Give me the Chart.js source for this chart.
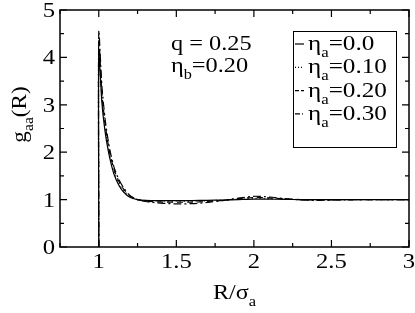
<!DOCTYPE html>
<html>
<head>
<meta charset="utf-8">
<script src="https://cdn.jsdelivr.net/npm/chart.js@4.4.1/dist/chart.umd.min.js"></script>
<style>
  html, body { margin: 0; padding: 0; background: #fff; }
  #wrap { width: 415px; height: 313px; }
</style>
</head>
<body>
<div id="wrap"><canvas id="chart" width="415" height="313"></canvas></div>
<script>
// R/sigma_a grid (first point draws the vertical jump at contact)
const rValues = [1, 1, 1.02, 1.04, 1.06, 1.08, 1.1, 1.13, 1.16, 1.2, 1.25, 1.3, 1.4, 1.5, 1.6, 1.7, 1.8, 1.9, 2.0, 2.1, 2.2, 2.3, 2.4, 2.5, 2.75, 3.0];
const gEta000 = [0, 4.10, 3.05, 2.45, 2.05, 1.75, 1.52, 1.30, 1.16, 1.05, 1.0, 0.985, 0.98, 0.98, 0.98, 0.985, 0.99, 1.0, 1.01, 1.01, 1.005, 1.0, 1.0, 1.0, 1.0, 1.0];
const gEta010 = [0, 4.22, 3.15, 2.55, 2.12, 1.80, 1.57, 1.34, 1.19, 1.07, 1.0, 0.98, 0.97, 0.965, 0.965, 0.975, 0.99, 1.01, 1.025, 1.02, 1.01, 1.0, 0.995, 1.0, 1.0, 1.0];
const gEta020 = [0, 4.38, 3.25, 2.62, 2.18, 1.86, 1.62, 1.38, 1.22, 1.08, 1.0, 0.97, 0.95, 0.945, 0.945, 0.96, 0.985, 1.02, 1.045, 1.035, 1.015, 1.0, 0.99, 0.995, 1.0, 1.0];
const gEta030 = [0, 4.55, 3.40, 2.72, 2.26, 1.92, 1.67, 1.42, 1.25, 1.09, 1.0, 0.96, 0.925, 0.91, 0.915, 0.94, 0.98, 1.03, 1.07, 1.055, 1.02, 0.995, 0.985, 0.99, 1.0, 1.0];
const seriesLabels = ['0.0', '0.10', '0.20', '0.30'];
const xTicks = [1, 1.5, 2, 2.5, 3];
const yTicks = [0, 1, 2, 3, 4, 5];

const FONT = "'Liberation Serif', serif";
const dashes = [[], [1, 3], [6, 4], [8, 3, 2, 3]];

function pts(ys) {
    return rValues.map((x, i) => ({ x: x, y: ys[i] }));
}

// text with subscripts, slightly widened like the original: parts = [[text, isSub], ...]
function subText(ctx, parts, x, y, size, align, hs) {
    hs = hs || 1;
    const subSize = Math.round(size * 0.68);
    let w = 0;
    parts.forEach(p => {
        ctx.font = (p[1] ? subSize : size) + 'px ' + FONT;
        w += ctx.measureText(p[0]).width;
    });
    let x0 = x;
    if (align === 'center') x0 = x - w * hs / 2;
    if (align === 'right') x0 = x - w * hs;
    ctx.save();
    ctx.translate(x0, y);
    ctx.scale(hs, 1);
    ctx.textAlign = 'left';
    ctx.textBaseline = 'alphabetic';
    let cx = 0;
    parts.forEach(p => {
        ctx.font = (p[1] ? subSize : size) + 'px ' + FONT;
        ctx.fillText(p[0], cx, p[1] ? 7 : 0);
        cx += ctx.measureText(p[0]).width;
    });
    ctx.restore();
}

const decor = {
    id: 'decor',
    afterDraw(chart) {
        const ctx = chart.ctx;
        const a = chart.chartArea;
        const xs = chart.scales.x, ys = chart.scales.y;
        ctx.save();
        ctx.strokeStyle = '#000';
        ctx.fillStyle = '#000';
        ctx.lineWidth = 1.5;
        ctx.strokeRect(a.left, a.top, a.right - a.left, a.bottom - a.top);
        ctx.lineWidth = 1.2;
        ctx.beginPath();
        // x ticks, top and bottom, inward
        for (let v = 0.75; v <= 3.001; v += 0.25) {
            const px = xs.getPixelForValue(v);
            const len = Math.abs(v * 2 - Math.round(v * 2)) < 1e-6 ? 7 : 4;
            ctx.moveTo(px, a.bottom); ctx.lineTo(px, a.bottom - len);
            ctx.moveTo(px, a.top); ctx.lineTo(px, a.top + len);
        }
        // y ticks, left and right
        for (let v = 0; v <= 5.001; v += 0.5) {
            const py = ys.getPixelForValue(v);
            const len = Math.abs(v - Math.round(v)) < 1e-6 ? 7 : 4;
            ctx.moveTo(a.left, py); ctx.lineTo(a.left + len, py);
            ctx.moveTo(a.right, py); ctx.lineTo(a.right - len, py);
        }
        ctx.stroke();

        // tick labels from the scales
        xs.ticks.forEach(t => {
            subText(ctx, [[String(t.value), false]], xs.getPixelForValue(t.value), a.bottom + 21, 22, 'center', 1.12);
        });
        ys.ticks.forEach(t => {
            subText(ctx, [[String(t.value), false]], a.left - 5, ys.getPixelForValue(t.value) + 7, 22, 'right', 1.12);
        });

        // axis titles
        subText(ctx, [['R/σ', false], ['a', true]], (a.left + a.right) / 2, 299, 22, 'center', 1.1);
        ctx.save();
        ctx.translate(26, (a.top + a.bottom) / 2 - 14);
        ctx.rotate(-Math.PI / 2);
        subText(ctx, [['g', false], ['aa', true], ['(R)', false]], 0, 0, 22, 'center', 1.05);
        ctx.restore();

        // annotation
        subText(ctx, [['q = 0.25', false]], 171, 50, 21, 'left', 1.16);
        subText(ctx, [['η', false], ['b', true], ['=0.20', false]], 171, 72, 21, 'left', 1.16);

        // legend box
        ctx.lineWidth = 1;
        ctx.strokeRect(293.5, 31.5, 103, 116);
        chart.data.datasets.forEach((ds, i) => {
            const by = 50 + i * 23.3;
            ctx.save();
            ctx.lineWidth = 1.2;
            ctx.setLineDash(i === 3 ? [5, 2, 1, 2] : (i === 2 ? [4, 2] : (i === 1 ? [1, 2] : [])));
            ctx.beginPath();
            ctx.moveTo(295, by - 6); ctx.lineTo(304, by - 6);
            ctx.stroke();
            ctx.restore();
            subText(ctx, [['η', false], ['a', true], ['=' + seriesLabels[i], false]], 308, by, 21, 'left', 1.2);
        });
        ctx.restore();
    }
};

const ctx = document.getElementById('chart').getContext('2d');
new Chart(ctx, {
    type: 'scatter',
    data: {
        datasets: [gEta000, gEta010, gEta020, gEta030].map((ys, i) => ({
            label: 'ηa=' + seriesLabels[i],
            data: pts(ys),
            showLine: true,
            borderColor: '#000',
            borderWidth: 1.2,
            borderDash: dashes[i],
            pointRadius: 0,
            tension: 0.25,
            fill: false
        }))
    },
    options: {
        responsive: false,
        animation: false,
        events: [],
        layout: { padding: { top: 10, right: 6, left: 0, bottom: 0 } },
        plugins: { legend: { display: false }, tooltip: { enabled: false } },
        scales: {
            x: {
                type: 'linear',
                min: 0.75, max: 3,
                afterBuildTicks: s => { s.ticks = xTicks.map(v => ({ value: v })); },
                afterFit: s => { s.height = 66; s.paddingLeft = 0; s.paddingRight = 0; },
                grid: { display: false, drawTicks: false },
                border: { display: false },
                ticks: { display: false }
            },
            y: {
                type: 'linear',
                min: 0, max: 5,
                afterBuildTicks: s => { s.ticks = yTicks.map(v => ({ value: v })); },
                afterFit: s => { s.width = 60; s.paddingTop = 0; s.paddingBottom = 0; },
                grid: { display: false, drawTicks: false },
                border: { display: false },
                ticks: { display: false }
            }
        }
    },
    plugins: [decor]
});
</script>
</body>
</html>
